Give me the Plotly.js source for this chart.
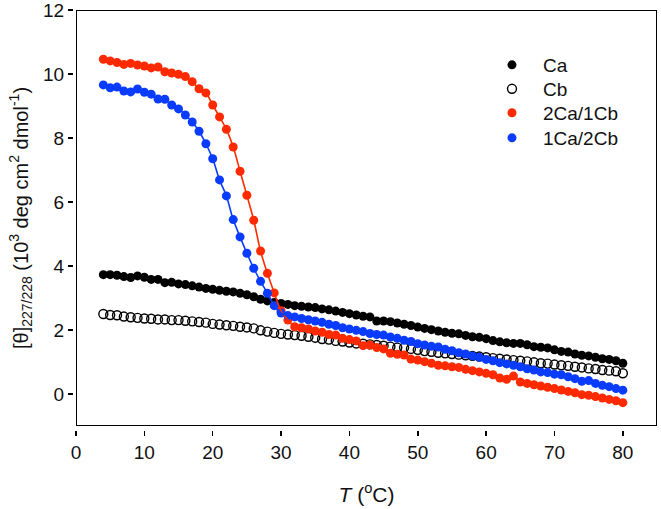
<!DOCTYPE html>
<html>
<head>
<meta charset="utf-8">
<script src="https://cdn.plot.ly/plotly-3.0.1.min.js"></script>
<style>
html,body{margin:0;padding:0;background:#fff;}
#chart{width:661px;height:509px;}
</style>
</head>
<body>
<div id="chart"></div>
<script>
var temps = [4,5,6,7,8,9,10,11,12,13,
  14,15,16,17,18,19,20,21,22,23,
  24,25,26,27,28,29,30,31,32,33,
  34,35,36,37,38,39,40,41,42,43,
  44,45,46,47,48,49,50,51,52,53,
  54,55,56,57,58,59,60,61,62,63,
  64,65,66,67,68,69,70,71,72,73,
  74,75,76,77,78,79,80];

var ca = [3.73,3.73,3.71,3.67,3.64,3.69,3.65,3.58,3.58,3.48,
  3.49,3.44,3.42,3.38,3.34,3.30,3.27,3.24,3.21,3.19,
  3.15,3.10,3.04,2.96,2.91,2.86,2.83,2.80,2.76,2.74,
  2.72,2.70,2.66,2.63,2.59,2.55,2.51,2.47,2.43,2.41,
  2.28,2.28,2.26,2.22,2.18,2.14,2.09,2.05,2.01,1.97,
  1.93,1.90,1.88,1.83,1.79,1.77,1.73,1.67,1.63,1.60,
  1.58,1.58,1.54,1.48,1.46,1.44,1.38,1.33,1.31,1.25,
  1.21,1.19,1.15,1.10,1.08,1.04,0.96];

var cb = [2.50,2.47,2.46,2.42,2.40,2.38,2.36,2.35,2.33,2.33,
  2.31,2.31,2.29,2.27,2.25,2.23,2.19,2.17,2.15,2.13,
  2.10,2.08,2.05,1.99,1.95,1.91,1.88,1.86,1.84,1.82,
  1.79,1.76,1.72,1.70,1.66,1.64,1.61,1.58,1.57,1.55,
  1.53,1.51,1.48,1.45,1.45,1.41,1.38,1.34,1.32,1.29,
  1.27,1.25,1.23,1.21,1.19,1.17,1.15,1.12,1.10,1.08,
  1.06,1.04,1.02,0.99,0.96,0.95,0.92,0.90,0.88,0.85,
  0.83,0.80,0.78,0.75,0.73,0.71,0.65];

var ca2cb1 = [10.46,10.41,10.36,10.30,10.33,10.28,10.25,10.19,10.22,10.07,
  10.03,9.99,9.92,9.76,9.54,9.41,9.03,8.66,8.27,7.72,
  6.96,6.21,5.43,4.47,3.77,3.16,2.60,2.31,2.10,2.07,
  2.03,1.97,1.93,1.86,1.84,1.74,1.70,1.66,1.51,1.53,
  1.45,1.41,1.27,1.24,1.22,1.09,1.06,1.01,0.96,0.90,
  0.88,0.85,0.83,0.77,0.73,0.69,0.645,0.60,0.50,0.46,
  0.56,0.375,0.33,0.29,0.25,0.21,0.17,0.125,0.08,0.04,
  -0.02,-0.04,-0.08,-0.125,-0.17,-0.21,-0.27];

var ca1cb2 = [9.66,9.57,9.59,9.47,9.44,9.53,9.43,9.37,9.22,9.21,
  9.03,8.91,8.72,8.50,8.21,7.82,7.35,6.69,6.19,5.45,
  4.91,4.40,3.93,3.52,3.15,2.76,2.53,2.45,2.41,2.36,
  2.32,2.28,2.24,2.18,2.14,2.07,2.03,1.99,1.95,1.89,
  1.86,1.84,1.78,1.74,1.68,1.64,1.57,1.53,1.49,1.47,
  1.40,1.35,1.29,1.25,1.19,1.15,1.08,1.04,0.98,0.94,
  0.90,0.85,0.79,0.75,0.69,0.67,0.62,0.60,0.54,0.48,
  0.40,0.42,0.33,0.27,0.23,0.17,0.12];

var seriesNames = ['Ca', 'Cb', '2Ca/1Cb', '1Ca/2Cb'];
var xTickVals = [0,10,20,30,40,50,60,70,80];
var yTickVals = [0,2,4,6,8,10,12];

var RED = '#ff2a00', BLUE = '#0a3cff';
var FONT = 'Liberation Sans, Arial, sans-serif';
var TXT = '#111';

var traces = [
  {x: temps, y: ca, name: seriesNames[0], type: 'scatter', mode: 'markers', legend: 'legend',
   marker: {symbol: 'circle', size: 9, color: '#000'}},
  {x: temps, y: cb, name: seriesNames[1], type: 'scatter', mode: 'markers', legend: 'legend2',
   marker: {symbol: 'circle-open', size: 9, color: '#000', line: {width: 1.4, color: '#000'}}},
  {x: temps, y: ca2cb1, name: seriesNames[2], type: 'scatter', mode: 'markers', legend: 'legend3',
   marker: {symbol: 'circle', size: 9, color: RED}},
  {x: temps, y: ca1cb2, name: seriesNames[3], type: 'scatter', mode: 'markers', legend: 'legend4',
   marker: {symbol: 'circle', size: 9, color: BLUE}},
  {x: temps, y: ca2cb1, type: 'scatter', mode: 'lines', showlegend: false, hoverinfo: 'skip',
   line: {color: RED, width: 1.6, shape: 'spline', smoothing: 1}},
  {x: temps, y: ca1cb2, type: 'scatter', mode: 'lines', showlegend: false, hoverinfo: 'skip',
   line: {color: BLUE, width: 1.6, shape: 'spline', smoothing: 1}}
];

function legendAt(yPaper) {
  return {x: 0.6986, y: yPaper, xanchor: 'left', yanchor: 'middle',
    font: {family: FONT, size: 19, color: TXT}, itemwidth: 52,
    bgcolor: 'rgba(0,0,0,0)', borderwidth: 0};
}

var layout = {
  width: 661, height: 509,
  margin: {l: 73, r: 4, t: 10, b: 79},
  paper_bgcolor: '#fff', plot_bgcolor: '#fff',
  font: {family: FONT, color: TXT, size: 19},
  showlegend: true,
  legend: legendAt(0.869),
  legend2: legendAt(0.812),
  legend3: legendAt(0.755),
  legend4: legendAt(0.6952),
  xaxis: {
    domain: [0.00514, 1], range: [0, 85], anchor: 'free', position: 0,
    tickmode: 'array', tickvals: xTickVals, ticklabeloverflow: 'allow',
    ticks: 'outside', ticklen: 5, tickwidth: 1.5, tickcolor: '#000',
    showline: false, showgrid: false, zeroline: false,
    tickfont: {family: FONT, size: 19, color: TXT},
    title: {text: '<i>T</i> (<sup>o</sup>C)', font: {family: FONT, size: 21, color: TXT}, standoff: 25}
  },
  yaxis: {
    domain: [0.00952, 1], range: [-1, 12], anchor: 'free', position: 0,
    tickmode: 'array', tickvals: yTickVals, ticklabeloverflow: 'allow',
    ticks: 'outside', ticklen: 5, tickwidth: 1.5, tickcolor: '#000',
    showline: false, showgrid: false, zeroline: false,
    tickfont: {family: FONT, size: 19, color: TXT},
    title: {text: '[θ]<sub>227/228</sub> (10<sup>3</sup> deg cm<sup>2</sup> dmol<sup>-1</sup>)',
      font: {family: FONT, size: 20, color: TXT}, standoff: 8}
  },
  shapes: [
    {type: 'rect', xref: 'x', yref: 'y', x0: 0, x1: 85, y0: -1, y1: 12,
     line: {color: '#000', width: 2}, fillcolor: 'rgba(0,0,0,0)', layer: 'above'}
  ]
};

Plotly.newPlot('chart', traces, layout, {displayModeBar: false, staticPlot: true});
</script>
</body>
</html>
